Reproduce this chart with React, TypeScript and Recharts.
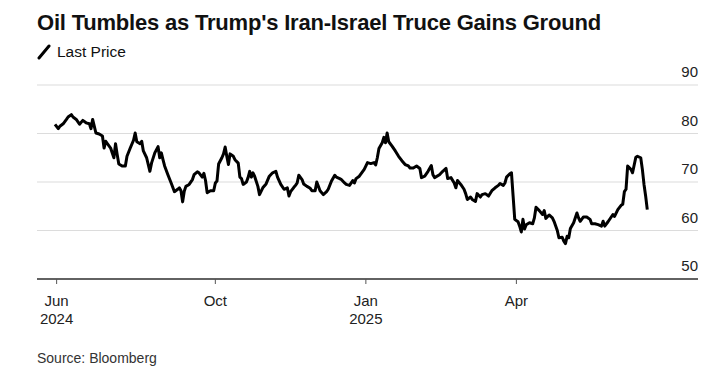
import { LineChart, Line, XAxis, YAxis, CartesianGrid } from 'recharts'

// day offsets from the first session (2024-06-24)
const days = [
    0, 2, 3, 5, 7, 8, 10, 11, 13, 15, 17, 19, 21, 22, 23, 24, 25, 27, 29, 30,
    31, 32, 34, 35, 36, 37, 38, 39, 41, 43, 44, 46, 48, 49, 50, 52, 53, 54, 56, 58,
    59, 61, 63, 64, 65, 66, 67, 69, 71, 73, 75, 76, 77, 78, 79, 80, 82, 84, 85, 87,
    88, 90, 91, 92, 93, 95, 97, 98, 99, 100, 102, 103, 104, 105, 106, 107, 109, 110, 112, 113,
    114, 115, 117, 118, 119, 120, 121, 122, 124, 125, 127, 129, 131, 133, 135, 136, 138, 140, 142, 143,
    144, 146, 147, 148, 149, 151, 152, 154, 156, 157, 159, 160, 162, 164, 166, 167, 169, 171, 172, 174,
    175, 177, 178, 180,
    182, 183, 184, 186, 189, 191, 193, 195, 196, 197, 198, 200, 201, 202, 203, 204, 206, 208, 210, 212,
    214, 216, 217, 219, 221, 223, 224, 226, 228, 230, 231, 232, 235, 237, 239, 240, 242, 244, 245, 246,
    248, 250, 251, 252, 254, 255, 257, 258, 260, 261, 263, 265, 267, 269, 271, 272, 274, 275, 276, 278,
    279, 280, 281, 283, 284, 285, 286, 287, 288, 290, 292, 293, 294, 296, 298, 299, 300, 302, 304, 305,
    307, 308, 310, 311, 312, 313, 314, 315, 317, 319, 320, 321, 323, 325, 327, 328, 330, 332, 334, 335,
    336, 338, 341, 342, 344, 346, 347, 348, 349, 350, 352, 353, 355, 356, 358, 359, 360, 361, 362,
]

const prices = [
    81.9, 81.0, 81.5, 82.0, 82.9, 83.4, 83.9, 83.4, 82.9, 81.9, 82.7, 82.2, 82.0, 81.0, 82.9, 81.5, 80.1, 79.9, 79.5, 77.0,
    78.4, 77.9, 77.0, 76.0, 75.0, 77.9, 75.7, 73.7, 73.3, 73.3, 75.3, 77.0, 78.6, 80.1, 78.3, 77.9, 78.4, 76.4, 75.0, 72.2,
    73.9, 76.0, 77.3, 75.0, 76.0, 74.6, 73.3, 71.5, 69.8, 68.0, 68.5, 68.8, 68.2, 65.9, 68.1, 69.1, 69.5, 70.5, 71.5, 72.1,
    71.9, 71.0, 71.8, 70.3, 67.8, 68.2, 68.2, 69.8, 70.2, 73.7, 75.0, 75.8, 77.2, 75.3, 73.6, 75.8, 75.3, 74.6, 73.9, 71.0,
    70.7, 69.5, 70.0, 70.9, 72.2, 71.0, 71.9, 71.2, 69.1, 67.4, 68.8, 69.6, 71.2, 71.9, 72.2, 71.0, 69.5, 68.5, 68.8, 67.1,
    68.0, 68.9, 69.3, 69.8, 71.4, 70.5, 69.6, 69.1, 68.7, 68.2, 68.2, 70.0, 68.2, 67.4, 68.0, 68.5, 70.2, 71.4, 71.0, 70.7,
    70.5, 69.8, 69.5, 69.3,
    70.3, 69.8, 70.7, 71.2, 72.6, 74.0, 73.8, 74.0, 73.5, 75.0, 76.9, 78.1, 79.2, 78.1, 80.1, 78.3, 77.4, 76.4, 75.3, 74.4,
    73.6, 73.3, 72.9, 72.9, 73.3, 72.8, 70.9, 71.2, 72.2, 73.4, 71.5, 70.9, 71.5, 72.2, 72.8, 70.7, 70.9, 69.8, 68.8, 70.3,
    69.5, 68.5, 67.6, 66.4, 66.9, 66.4, 66.0, 67.6, 66.9, 67.4, 67.6, 67.1, 68.2, 68.8, 69.3, 69.7, 69.3, 69.8, 71.0, 71.7,
    71.9, 67.1, 62.3, 61.8, 60.9, 59.7, 62.3, 60.3, 61.2, 61.6, 61.4, 62.6, 64.8, 64.1, 63.3, 64.1, 62.5, 63.2, 62.6, 61.9,
    60.0, 58.5, 58.6, 57.8, 57.3, 58.8, 58.5, 60.4, 61.6, 63.6, 62.6, 61.9, 62.8, 62.8, 62.3, 61.4, 61.4, 61.2, 60.9, 61.9,
    60.9, 61.8, 63.3, 62.9, 64.3, 65.2, 65.4, 68.0, 68.5, 73.3, 72.6, 71.9, 75.1, 75.3, 75.0, 72.6, 69.5, 67.1, 64.3,
]

const tickDays = [1, 98, 190, 282]
const tickMonths = ['Jun', 'Oct', 'Jan', 'Apr']
const tickYears = ['2024', '', '2025', '']
const yTicks = [50, 60, 70, 80, 90]

const data = days.map((d, i) => ({ day: d, price: prices[i] }))

const FONT = '"Liberation Sans", Arial, sans-serif'

function XTick({ x, y, payload }: any) {
    const i = tickDays.indexOf(payload.value)
    return (
        <text x={x} y={y} textAnchor="middle" fill="#222" fontSize={15} fontFamily={FONT}>
            <tspan x={x} dy={20}>{tickMonths[i]}</tspan>
            {tickYears[i] && <tspan x={x} dy={18}>{tickYears[i]}</tspan>}
        </text>
    )
}

function YTick({ x, y, payload }: any) {
    return (
        <text x={x} y={y - 8} textAnchor="end" fill="#222" fontSize={15} fontFamily={FONT}>
            {payload.value}
        </text>
    )
}

export default function App() {
    return (
        <div style={{ position: 'absolute', left: 0, top: 0, width: 724, height: 375, background: '#fff', fontFamily: FONT, color: '#111' }}>
            <div style={{ position: 'absolute', left: 37, top: 10, fontSize: 22, fontWeight: 700, letterSpacing: -0.2 }}>
                Oil Tumbles as Trump's Iran-Israel Truce Gains Ground
            </div>
            <div style={{ position: 'absolute', left: 37, top: 43, fontSize: 15.5, display: 'flex', alignItems: 'center' }}>
                <svg width={14} height={16} style={{ marginRight: 6 }}>
                    <line x1={2} y1={14} x2={12} y2={2} stroke="#000" strokeWidth={3} strokeLinecap="round" />
                </svg>
                Last Price
            </div>
            <div style={{ position: 'absolute', left: 0, top: 0 }}>
                <LineChart width={724} height={340} data={data} margin={{ top: 85, right: 0, bottom: 11, left: 37 }}>
                    <CartesianGrid vertical={false} stroke="#dcdcdc" strokeWidth={1.2} />
                    <XAxis
                        dataKey="day"
                        type="number"
                        domain={[-11, 393]}
                        ticks={tickDays}
                        interval={0}
                        height={50}
                        tick={<XTick />}
                        tickSize={5}
                        stroke="#333"
                        axisLine={{ stroke: '#333', strokeWidth: 1.5 }}
                        tickLine={{ stroke: '#555' }}
                    />
                    <YAxis
                        orientation="right"
                        domain={[50, 90]}
                        ticks={yTicks}
                        width={26}
                        axisLine={false}
                        tickLine={false}
                        tickSize={0}
                        tickMargin={0}
                        tick={<YTick />}
                        allowDataOverflow
                    />
                    <Line
                        dataKey="price"
                        stroke="#000"
                        strokeWidth={3}
                        dot={false}
                        strokeLinejoin="round"
                        isAnimationActive={false}
                    />
                </LineChart>
            </div>
            <div style={{ position: 'absolute', left: 37, top: 350, fontSize: 14, color: '#333' }}>
                Source: Bloomberg
            </div>
        </div>
    )
}
